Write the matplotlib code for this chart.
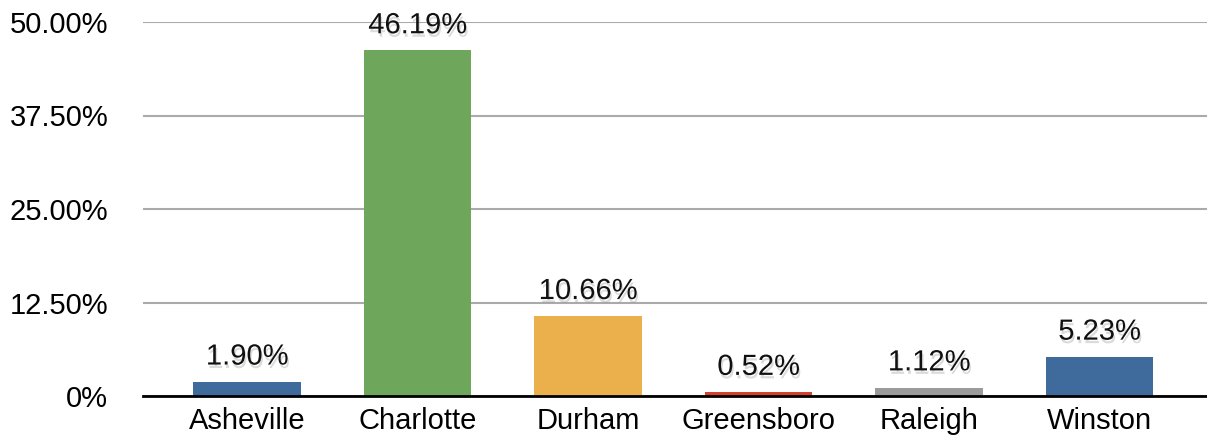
import matplotlib.pyplot as plt
import matplotlib.patheffects as pe
import numpy as np

# data
cities = ['Asheville', 'Charlotte', 'Durham', 'Greensboro', 'Raleigh', 'Winston']
shares = [1.90, 46.19, 10.66, 0.52, 1.12, 5.23]
colors = ['#3e6a9c', '#6ea75b', '#ebb04b', '#d4412f', '#9b9b9b', '#3e6a9c']
yticks = [0, 12.5, 25, 37.5, 50]
ytick_labels = ['0%', '12.50%', '25.00%', '37.50%', '50.00%']

plt.rcParams['font.family'] = ['Liberation Sans', 'DejaVu Sans']
fs = 21

fig = plt.figure(figsize=(12.07, 4.43), dpi=100)
ax = fig.add_axes([143 / 1207, 47 / 443, 1064 / 1207, 374 / 443])

x = np.arange(len(cities))
ax.bar(x, shares, width=0.63, color=colors, zorder=2)

shadow = [pe.withSimplePatchShadow(offset=(1, -2.5), shadow_rgbFace='#888888', alpha=0.3)]
for xi, v in zip(x, shares):
    ax.text(xi, v + 1.5, f'{v:.2f}%', ha='center', va='bottom', fontsize=fs,
            color='#111111', zorder=3, path_effects=shadow)

ax.set_xlim(-0.61, 5.63)
ax.set_ylim(0, 50)
ax.set_yticks(yticks)
ax.set_yticklabels(ytick_labels, fontsize=fs)
ax.set_xticks(x)
ax.set_xticklabels(cities, fontsize=fs)
ax.tick_params(axis='both', length=0)
ax.tick_params(axis='x', pad=8)
ax.tick_params(axis='y', pad=25)
ax.yaxis.grid(True, color='#aaaaaa', lw=1.5, zorder=0)
ax.set_axisbelow(True)
for s in ['top', 'right', 'left']:
    ax.spines[s].set_visible(False)
ax.spines['bottom'].set_color('black')
ax.spines['bottom'].set_linewidth(2)
ax.spines['bottom'].set_zorder(4)
ax.patch.set_alpha(0)

fig.savefig('out.png', dpi=100)
